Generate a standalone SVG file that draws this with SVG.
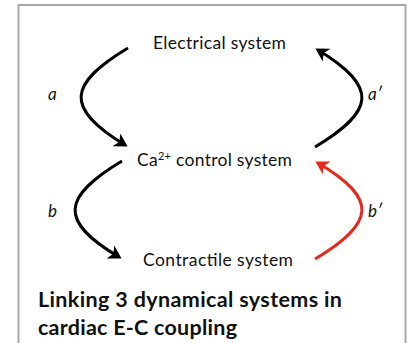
<svg xmlns="http://www.w3.org/2000/svg" width="409" height="343" viewBox="0 0 409 343">
<defs>
<style>
.lbl{font-family:Lato,"Open Sans","Liberation Sans",sans-serif;font-size:17.5px;fill:#111;}
.it{font-family:Lato,"Open Sans","Liberation Sans",sans-serif;font-size:17px;font-style:italic;fill:#111;}
.ttl{font-family:Lato,"Open Sans","Liberation Sans",sans-serif;font-size:21.5px;font-weight:bold;fill:#111;}
.k{fill:none;stroke:#000;stroke-width:3;}
.r{fill:none;stroke:#e5291e;stroke-width:3;}
</style>
<marker id="ak" markerUnits="userSpaceOnUse" markerWidth="20" markerHeight="20" viewBox="-12 -10 16 20" refX="0" refY="0" orient="auto">
<path d="M3,0 L-10,-7.5 L-6.5,0 L-10,7.5 Z" fill="#000"/>
</marker>
<marker id="ar" markerUnits="userSpaceOnUse" markerWidth="20" markerHeight="20" viewBox="-12 -10 16 20" refX="0" refY="0" orient="auto">
<path d="M3,0 L-10,-7.5 L-6.5,0 L-10,7.5 Z" fill="#e5291e"/>
</marker>
</defs>
<rect x="0" y="0" width="409" height="343" fill="#fff"/>
<rect x="18.5" y="5" width="387" height="400" fill="none" stroke="#a8a8a8" stroke-width="2"/>
<g id="electrical"><text class="lbl" x="153" y="49" textLength="133">Electrical system</text></g>
<g id="calcium"><text class="lbl" x="137" y="166" textLength="155">Ca<tspan font-size="11" dy="-6.5">2+</tspan><tspan dy="6.5"> control system</tspan></text></g>
<g id="contractile"><text class="lbl" x="143" y="266" textLength="150">Contractile system</text></g>
<g id="connectors">
<path class="k" d="M128,48 C68,84 64,108 125,145" marker-end="url(#ak)"/>
<path class="k" d="M315,147 C375,111 379,87 318,50" marker-end="url(#ak)"/>
<path class="k" d="M122,161 C62,197 58,221 119,257" marker-end="url(#ak)"/>
<path class="r" d="M315,259 C375,223 379,199 318,163" marker-end="url(#ar)"/>
<text class="it" x="48" y="100">a</text>
<text class="it" x="368" y="100">a′</text>
<text class="it" x="48" y="217">b</text>
<text class="it" x="368" y="217">b′</text>
</g>
<g id="title">
<text class="ttl" x="38" y="307" textLength="304">Linking 3 dynamical systems in</text>
<text class="ttl" x="38" y="335" textLength="199">cardiac E-C coupling</text>
</g>
</svg>
